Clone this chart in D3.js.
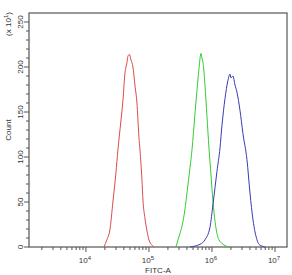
<!DOCTYPE html>
<html><head><meta charset="utf-8">
<script src="https://cdn.jsdelivr.net/npm/d3@7"></script>
<style>body{margin:0;background:#fff}svg{display:block}text{font-family:"Liberation Sans",Arial,sans-serif;fill:#333}</style>
</head><body><svg id="c" width="292" height="275"></svg>
<script>
// FITC-A values (log-spaced channel centres) and counts (x10^1)
const redX = [1.93e4,2.15e4,2.40e4,2.68e4,2.99e4,3.22e4,3.59e4,3.87e4,4.16e4,4.48e4,4.64e4,4.90e4,5.18e4,5.57e4,5.99e4,6.45e4,6.94e4,7.20e4,7.74e4,8.04e4,8.64e4,9.30e4,1.00e5,1.12e5,1.20e5];
const redY = [0,8,19,50,82,108,140,163,193,205,212,214,208,200,180,160,122,108,75,52,32,18,8,2,0];
const greenX = [2.68e5,2.89e5,3.10e5,3.34e5,3.73e5,4.01e5,4.48e5,4.82e5,5.37e5,5.78e5,6.22e5,6.69e5,6.94e5,7.20e5,7.74e5,8.33e5,8.96e5,9.64e5,1.04e6,1.12e6,1.20e6,1.29e6,1.44e6,1.67e6,1.86e6];
const greenY = [0,8,15,23,42,60,88,108,148,174,198,215,210,205,180,145,110,80,50,28,15,8,4,1,0];
const blueX = [4.48e5,5.37e5,6.45e5,7.74e5,9.30e5,1.04e6,1.20e6,1.34e6,1.44e6,1.61e6,1.79e6,1.93e6,2.00e6,2.15e6,2.32e6,2.49e6,2.78e6,3.10e6,3.59e6,4.01e6,4.48e6,5.18e6,5.57e6,6.22e6,6.94e6];
const blueY = [0,1,3,8,22,48,84,110,135,165,185,192,188,190,180,172,152,126,97,60,30,8,3,1,0];
const yTicks = [0,50,100,150,200,250];
const xDecades = [4,5,6,7];
const xLabel = "FITC-A", yLabel = "Count", yUnit = "(x 10";

const svg = d3.select("#c");
const L=29,R=287,T=13,B=247;
const x = d3.scaleLog().domain([1250,1.55e7]).range([L,R]);
const y = d3.scaleLinear().domain([0,260]).range([B,T]);

// frame
svg.append("rect").attr("x",L).attr("y",T).attr("width",R-L).attr("height",B-T)
  .attr("fill","none").attr("stroke","#555").attr("stroke-width",1.2);

// curves
const line = d3.line().x(d=>x(d[0])).y(d=>y(d[1])).curve(d3.curveMonotoneX);
[[redX,redY,"#dd4a4a"],[greenX,greenY,"#33cc33"],[blueX,blueY,"#3a3ab4"]].forEach(([xs,ys,c])=>{
  svg.append("path").attr("d",line(xs.map((v,i)=>[v,ys[i]])))
    .attr("fill","none").attr("stroke",c).attr("stroke-width",1);
});

// y axis ticks
const yMinor = d3.range(0,251,10);
svg.selectAll(".ym").data(yMinor).join("line")
  .attr("x1",d=>yTicks.includes(d)?L-5:L-3).attr("x2",L)
  .attr("y1",d=>y(d)).attr("y2",d=>y(d)).attr("stroke","#555").attr("stroke-width",1);
svg.selectAll(".yl").data(yTicks).join("text")
  .attr("transform",d=>`translate(${L-6},${y(d)}) rotate(-90)`)
  .attr("text-anchor","middle").attr("font-size",8).text(d=>d);

// x axis ticks
const xMinor=[];
for(let e=3;e<=7;e++) for(let m=1;m<=9;m++){const v=m*Math.pow(10,e); if(v>=1250&&v<=1.55e7) xMinor.push({v,major:m===1});}
svg.selectAll(".xm").data(xMinor).join("line")
  .attr("x1",d=>x(d.v)).attr("x2",d=>x(d.v)).attr("y1",B).attr("y2",d=>d.major?B+5:B+3)
  .attr("stroke","#555").attr("stroke-width",1);
const xl = svg.selectAll(".xl").data(xDecades).join("text")
  .attr("x",d=>x(Math.pow(10,d))-1).attr("y",B+16).attr("text-anchor","middle").attr("font-size",8);
xl.append("tspan").text("10");
xl.append("tspan").attr("dy",-3).attr("font-size",6).text(d=>d);

svg.append("text").attr("x",(L+R)/2).attr("y",B+26).attr("text-anchor","middle").attr("font-size",8).text(xLabel);
svg.append("text").attr("transform",`translate(11,${(T+B)/2}) rotate(-90)`).attr("text-anchor","middle").attr("font-size",8).text(yLabel);
const u = svg.append("text").attr("transform",`translate(11,24) rotate(-90)`).attr("text-anchor","middle").attr("font-size",8);
u.append("tspan").text(yUnit);
u.append("tspan").attr("dy",-3).attr("font-size",6).text("1");
u.append("tspan").attr("dy",3).text(")");
</script></body></html>
